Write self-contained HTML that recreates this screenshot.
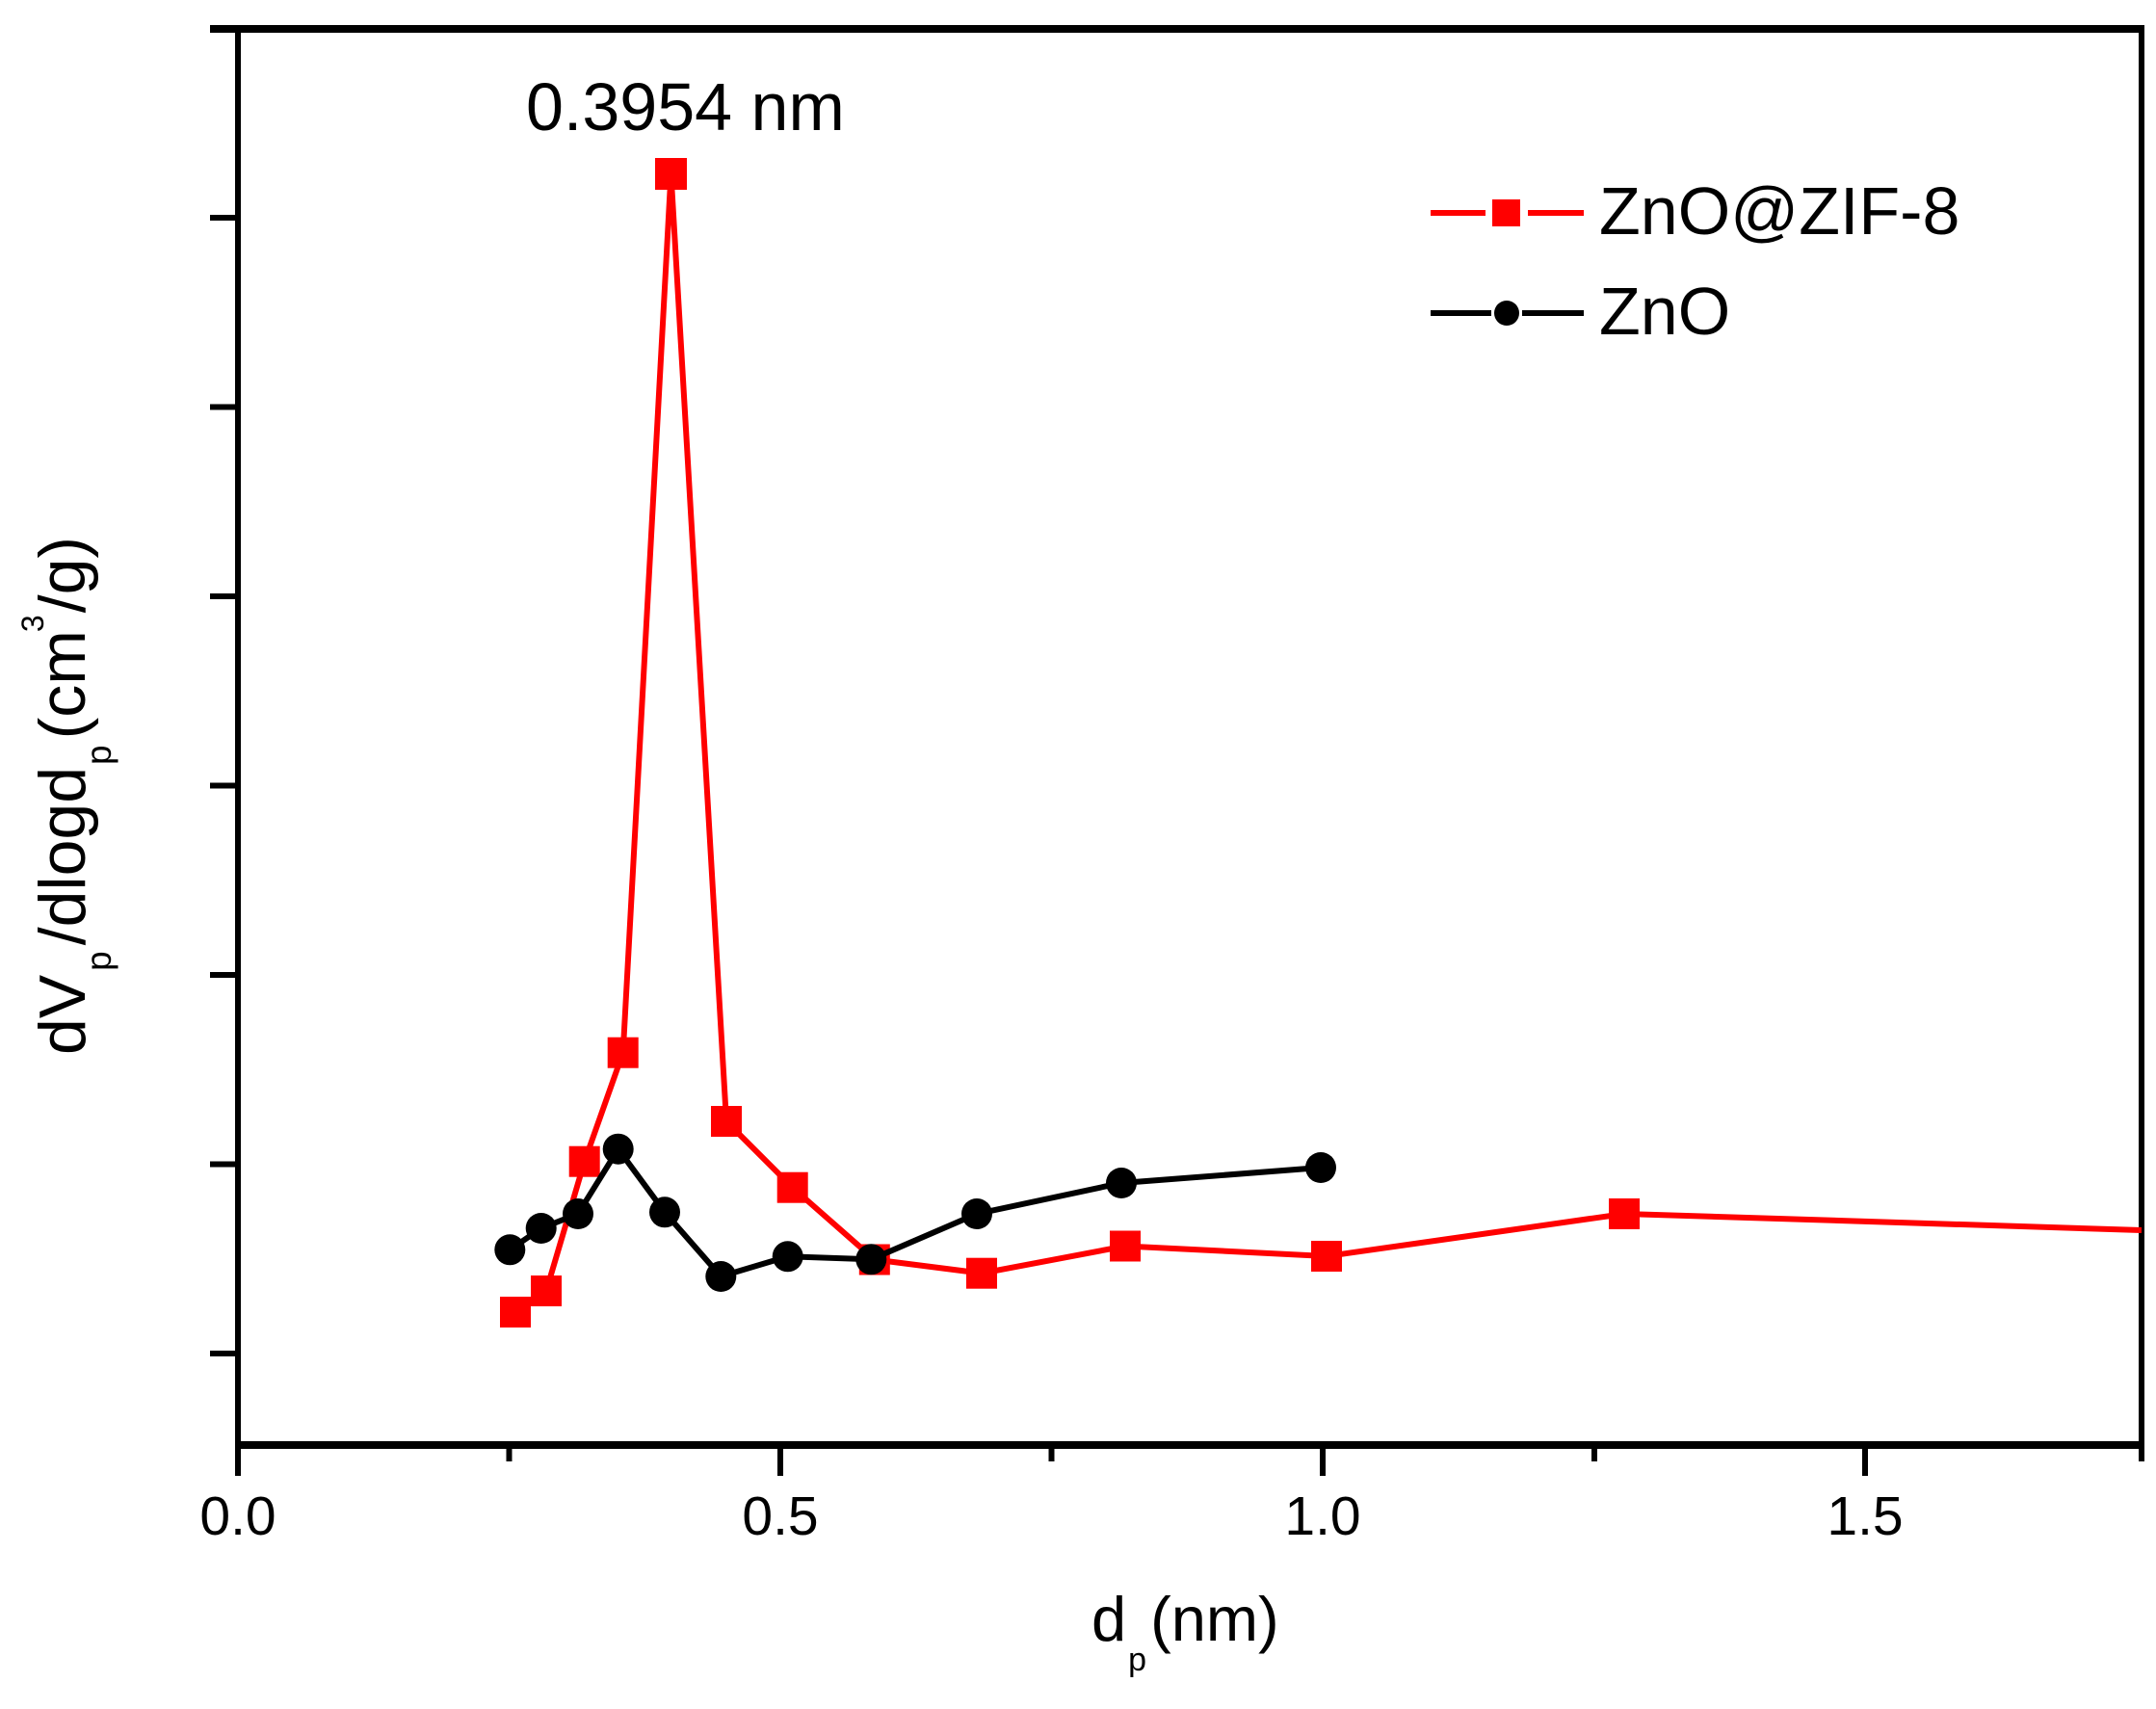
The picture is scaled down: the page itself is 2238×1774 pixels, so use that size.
<!DOCTYPE html>
<html>
<head>
<meta charset="utf-8">
<style>
  html, body { margin: 0; padding: 0; background: #ffffff; }
  body { width: 2238px; height: 1774px; overflow: hidden; }
  svg { display: block; }
  text { font-family: "Liberation Sans", Arial, sans-serif; fill: #000; }
</style>
</head>
<body>
<svg width="2238" height="1774" viewBox="0 0 2238 1774" xmlns="http://www.w3.org/2000/svg">
  <rect x="0" y="0" width="2238" height="1774" fill="#ffffff"/>

  <!-- Frame -->
  <line x1="218" y1="30" x2="2226" y2="30" stroke="#000" stroke-width="8"/>
  <line x1="247" y1="27" x2="247" y2="1532" stroke="#000" stroke-width="6"/>
  <line x1="2223" y1="27" x2="2223" y2="1517" stroke="#000" stroke-width="6"/>
  <line x1="244" y1="1500" x2="2226" y2="1500" stroke="#000" stroke-width="8"/>

  <!-- Y ticks -->
  <g stroke="#000" stroke-width="6">
    <line x1="218" y1="226" x2="247" y2="226"/>
    <line x1="218" y1="422.5" x2="247" y2="422.5"/>
    <line x1="218" y1="619" x2="247" y2="619"/>
    <line x1="218" y1="815.5" x2="247" y2="815.5"/>
    <line x1="218" y1="1012" x2="247" y2="1012"/>
    <line x1="218" y1="1208.5" x2="247" y2="1208.5"/>
    <line x1="218" y1="1405" x2="247" y2="1405"/>
  </g>

  <!-- X ticks -->
  <g stroke="#000" stroke-width="6">
    <line x1="528.5" y1="1500" x2="528.5" y2="1517"/>
    <line x1="810" y1="1500" x2="810" y2="1532"/>
    <line x1="1091.5" y1="1500" x2="1091.5" y2="1517"/>
    <line x1="1373" y1="1500" x2="1373" y2="1532"/>
    <line x1="1655" y1="1500" x2="1655" y2="1517"/>
    <line x1="1936" y1="1500" x2="1936" y2="1532"/>
  </g>

  <!-- X tick labels -->
  <g font-size="57" text-anchor="middle">
    <text x="247" y="1593">0.0</text>
    <text x="810" y="1593">0.5</text>
    <text x="1373" y="1593">1.0</text>
    <text x="1936" y="1593">1.5</text>
  </g>

  <!-- X axis label -->
  <text x="1133" y="1703" font-size="65">d<tspan font-size="34" dy="31" dx="2">p</tspan><tspan dy="-31" dx="4">(nm)</tspan></text>

  <!-- Y axis label -->
  <text transform="translate(88,1095) rotate(-90)" x="0" y="0" font-size="68">dV<tspan font-size="37" dy="27" dx="4">p</tspan><tspan dy="-27" dx="6">/dlogd</tspan><tspan font-size="37" dy="27" dx="2">p</tspan><tspan dy="-27" dx="6">(cm</tspan><tspan font-size="32" dy="-43" dx="-2">3</tspan><tspan dy="43" dx="2">/g)</tspan></text>

  <!-- Annotation -->
  <text x="546" y="135" font-size="70">0.3954 nm</text>

  <!-- Red series: ZnO@ZIF-8 -->
  <polyline fill="none" stroke="#ff0000" stroke-width="6" stroke-linejoin="miter"
    points="535,1362 567,1340 606.7,1205.7 646.7,1092.7 696.5,180 754,1164 822.7,1232.7 907.8,1307.5 1019,1321.7 1168,1293.5 1377,1304 1686,1260 1940,1268 2223,1277"/>
  <g fill="#ff0000">
    <rect x="519" y="1346" width="32" height="32"/>
    <rect x="551" y="1324" width="32" height="32"/>
    <rect x="590.7" y="1189.7" width="32" height="32"/>
    <rect x="630.7" y="1076.7" width="32" height="32"/>
    <rect x="680" y="164" width="33" height="33"/>
    <rect x="738" y="1148" width="32" height="32"/>
    <rect x="806.7" y="1216.7" width="32" height="32"/>
    <rect x="891.8" y="1291.5" width="32" height="32"/>
    <rect x="1003" y="1305.7" width="32" height="32"/>
    <rect x="1152" y="1277.5" width="32" height="32"/>
    <rect x="1361" y="1288" width="32" height="32"/>
    <rect x="1670" y="1244" width="32" height="32"/>
  </g>

  <!-- Black series: ZnO -->
  <polyline fill="none" stroke="#000" stroke-width="6" stroke-linejoin="miter"
    points="529.3,1297.3 561.7,1275 600,1260 641.7,1192.7 690,1258.3 748.3,1325 817.7,1304.3 904.3,1307.3 1014,1260 1164,1228 1371,1212"/>
  <g fill="#000">
    <circle cx="529.3" cy="1297.3" r="16"/>
    <circle cx="561.7" cy="1275" r="16"/>
    <circle cx="600" cy="1260" r="16"/>
    <circle cx="641.7" cy="1192.7" r="16"/>
    <circle cx="690" cy="1258.3" r="16"/>
    <circle cx="748.3" cy="1325" r="16"/>
    <circle cx="817.7" cy="1304.3" r="16"/>
    <circle cx="904.3" cy="1307.3" r="16"/>
    <circle cx="1014" cy="1260" r="16"/>
    <circle cx="1164" cy="1228" r="16"/>
    <circle cx="1371" cy="1212" r="16"/>
  </g>

  <!-- Legend -->
  <g stroke="#ff0000" stroke-width="6">
    <line x1="1485" y1="221" x2="1542" y2="221"/>
    <line x1="1586" y1="221" x2="1644" y2="221"/>
  </g>
  <rect x="1549" y="207" width="29" height="28" fill="#ff0000"/>
  <text x="1660" y="243" font-size="70">ZnO@ZIF-8</text>

  <g stroke="#000" stroke-width="6">
    <line x1="1485" y1="325" x2="1548" y2="325"/>
    <line x1="1580" y1="325" x2="1644" y2="325"/>
  </g>
  <circle cx="1564" cy="325" r="13" fill="#000"/>
  <text x="1660" y="347" font-size="70">ZnO</text>
</svg>
</body>
</html>
